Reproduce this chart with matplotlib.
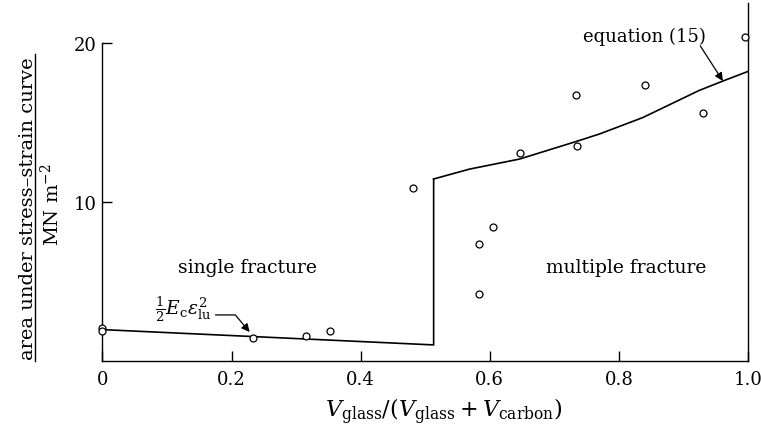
import numpy as np
import matplotlib
matplotlib.use("Agg")
import matplotlib.pyplot as plt

plt.rcParams["font.family"] = "DejaVu Serif"
plt.rcParams["mathtext.fontset"] = "dejavuserif"

# measured points (volume fraction of glass, area under curve)
x_pts = [0.0, 0.0, 0.2325, 0.315, 0.353, 0.481, 0.5825, 0.6057, 0.583,
         0.647, 0.7336, 0.7356, 0.841, 0.9305, 0.9955]
y_pts = [2.13, 1.91, 1.49, 1.62, 1.93, 10.9, 7.39, 8.44, 4.25,
         13.1, 16.7, 13.54, 17.34, 15.57, 20.34]

# single fracture line (1/2 Ec eps^2)
x_single = [0.0, 0.513, 0.513]
y_single = [2.0, 1.04, 11.45]

# multiple fracture, equation (15)
x_multi = [0.513, 0.5686, 0.646, 0.7336, 0.7696, 0.8367, 0.924, 0.96, 1.0]
y_multi = [11.45, 12.07, 12.7, 13.8, 14.27, 15.3, 17.0, 17.58, 18.2]

x_ticks = [0, 0.2, 0.4, 0.6, 0.8, 1.0]
x_ticklabels = ["0", "0.2", "0.4", "0.6", "0.8", "1.0"]
y_ticks = [10, 20]

fig = plt.figure(figsize=(7.61, 4.35), dpi=100)
ax = fig.add_axes([0.1346, 0.1667, 0.8484, 0.8244])

ax.plot(x_single, y_single, color="black", lw=1.2)
ax.plot(x_multi, y_multi, color="black", lw=1.2)
ax.plot(x_pts, y_pts, "o", mfc="white", mec="black", ms=5, mew=0.9,
        clip_on=False, zorder=5)

ax.set_xlim(0, 1.0)
ax.set_ylim(0, 22.5)
ax.spines["top"].set_visible(False)
ax.spines["left"].set_bounds(0, 20)
for s in ax.spines.values():
    s.set_linewidth(1.0)

ax.set_xticks(x_ticks)
ax.set_xticklabels(x_ticklabels)
ax.set_yticks(y_ticks)
ax.tick_params(direction="in", length=7, width=1.0, labelsize=13)
ax.tick_params(axis="x", pad=6)
ax.tick_params(axis="y", pad=4)

ax.text(0.225, 5.9, "single fracture", fontsize=13.5, ha="center", va="center")
ax.text(0.811, 5.9, "multiple fracture", fontsize=13.5, ha="center", va="center")

# annotation of the theoretical lines
ax.text(0.84, 20.4, "equation (15)", fontsize=13, ha="center", va="center")
ax.annotate("", xy=(0.961, 17.6), xytext=(0.926, 19.8),
            arrowprops=dict(arrowstyle="-|>", color="black", lw=0.9,
                            shrinkA=0, shrinkB=0, mutation_scale=12))
ax.text(0.125, 3.35, r"$\frac{1}{2}E_\mathrm{c}\epsilon_\mathrm{lu}^2$",
        fontsize=13.5, ha="center", va="center")
ax.annotate("", xy=(0.228, 1.85), xytext=(0.175, 2.92),
            arrowprops=dict(arrowstyle="-|>", color="black", lw=0.9,
                            shrinkA=0, shrinkB=0, mutation_scale=12,
                            connectionstyle="angle,angleA=0,angleB=130,rad=0"))

ax.set_xlabel(r"$V_\mathrm{glass}/(V_\mathrm{glass}+V_\mathrm{carbon})$",
              fontsize=16, labelpad=6)
ax.xaxis.set_label_coords(0.528, -0.095)

# fraction-style y label
fig.text(0.037, 0.52, "area under stress\u2013strain curve", rotation=90,
         fontsize=14, ha="center", va="center")
fig.add_artist(plt.Line2D([0.046, 0.046], [0.168, 0.873], color="black",
                          lw=1.0, transform=fig.transFigure))
fig.text(0.067, 0.53, r"MN m$^{-2}$", rotation=90, fontsize=14,
         ha="center", va="center")

fig.savefig("out.png", dpi=100)
